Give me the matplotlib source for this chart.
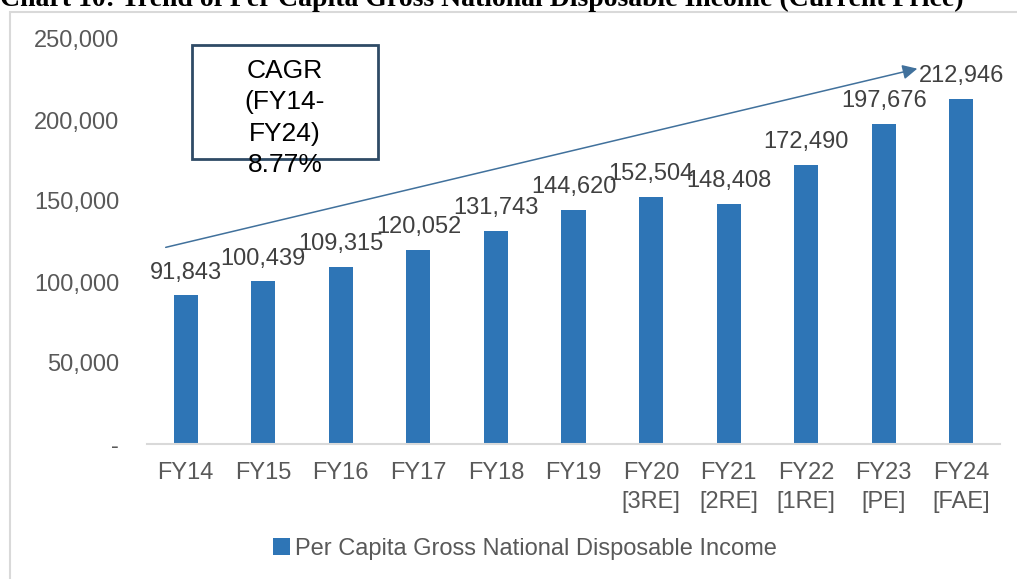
import matplotlib
matplotlib.use("Agg")
import matplotlib.pyplot as plt
from matplotlib.patches import Rectangle, FancyArrowPatch
from matplotlib.ticker import FuncFormatter

years = ["FY14", "FY15", "FY16", "FY17", "FY18", "FY19",
         "FY20\n[3RE]", "FY21\n[2RE]", "FY22\n[1RE]", "FY23\n[PE]", "FY24\n[FAE]"]
income = [91843, 100439, 109315, 120052, 131743, 144620,
          152504, 148408, 172490, 197676, 212946]
series_name = "Per Capita Gross National Disposable Income"
cagr_text = "CAGR\n(FY14-\nFY24)\n8.77%"
title = "Chart 10: Trend of Per Capita Gross National Disposable Income (Current Price)"

plt.rcParams['font.family'] = ['Liberation Sans', 'DejaVu Sans']
W, H = 1017, 579
fig = plt.figure(figsize=(W / 100, H / 100), dpi=100)
ax = fig.add_axes([147 / W, 1 - 444 / H, 853 / W, 405 / H])

bar_color = "#2E75B6"
x = range(len(years))
bars = ax.bar(x, income, width=0.31, color=bar_color, label=series_name, zorder=2)

for xi, v in zip(x, income):
    ax.annotate(f"{v:,}", (xi, v), xytext=(0, 12), textcoords="offset points",
                ha="center", va="baseline", fontsize=17, color="#404040")

ax.set_xlim(-0.5, len(years) - 0.5)
ax.set_ylim(0, 250000)
ax.set_yticks(range(0, 250001, 50000))
ax.yaxis.set_major_formatter(FuncFormatter(lambda v, p: "-" if v == 0 else f"{int(v):,}"))
ax.set_xticks(list(x))
ax.set_xticklabels(years, linespacing=1.4)
ax.tick_params(axis="y", length=0, pad=20, labelsize=17, labelcolor="#595959")
ax.tick_params(axis="x", length=0, pad=13, labelsize=17, labelcolor="#595959")
for s in ["top", "right", "left"]:
    ax.spines[s].set_visible(False)
ax.spines["bottom"].set_color("#D9D9D9")
ax.spines["bottom"].set_linewidth(1.5)

# trend arrow
arrow = FancyArrowPatch((163 / W, 1 - 248 / H), (920 / W, 1 - 68 / H),
                        transform=fig.transFigure, arrowstyle="-|>",
                        mutation_scale=22, color="#41719C", lw=1.1)
fig.patches.append(arrow)

# CAGR box
fig.patches.append(Rectangle((192 / W, 1 - 159 / H), 186 / W, 114 / H,
                             transform=fig.transFigure, fill=False,
                             edgecolor="#2F4B66", lw=2))
fig.text(285 / W, 1 - 118 / H, cagr_text, ha="center", va="center",
         fontsize=19, linespacing=1.38, color="black")

# outer chart frame
fig.patches.append(Rectangle((10 / W, -0.1), 1.2, 1 - 12 / H + 0.1,
                             transform=fig.transFigure, fill=False,
                             edgecolor="#D9D9D9", lw=1.5))

fig.text(0, 1 - 6 / H, title, ha="left", va="baseline", fontsize=20,
         fontweight="bold", family="Liberation Serif")

leg = ax.legend(loc="center", bbox_to_anchor=(525 / W, 1 - 549 / H),
                bbox_transform=fig.transFigure, frameon=False, fontsize=17,
                handlelength=0.7, handleheight=0.7, handletextpad=0.2)
for t in leg.get_texts():
    t.set_color("#595959")

fig.savefig("out.png", dpi=100)
